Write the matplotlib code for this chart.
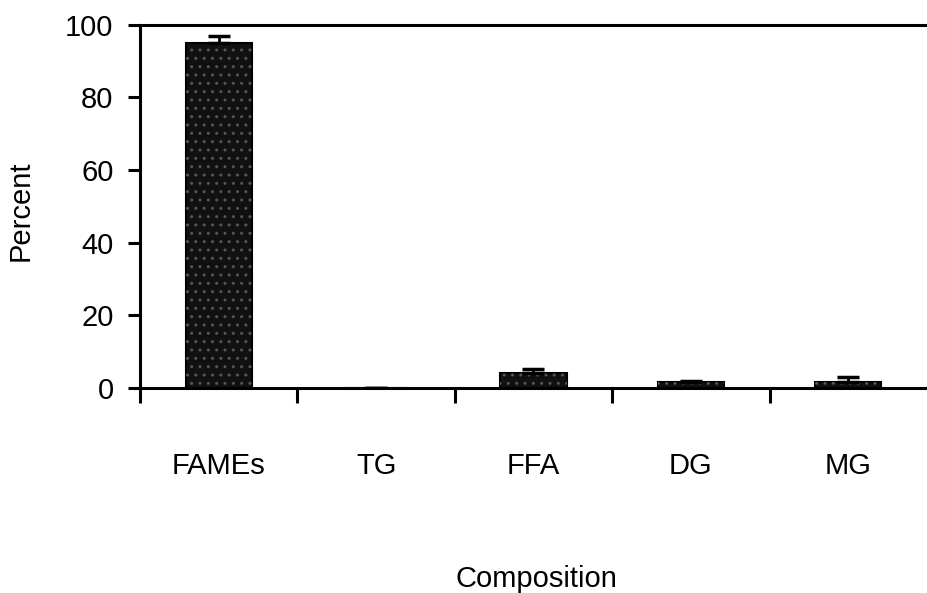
import numpy as np
import matplotlib.pyplot as plt

plt.rcParams['font.family'] = ['Liberation Sans', 'DejaVu Sans']

categorias = ['FAMEs', 'TG', 'FFA', 'DG', 'MG']
percent = [95.0, 0.0, 4.0, 1.5, 1.5]
erro = [2.0, 0.0, 1.2, 0.3, 1.5]

ind = np.arange(len(categorias))
largura = .42
fonte = 21

fig = plt.figure(figsize=(9.27, 5.93), dpi=100)
ax = fig.add_axes([0.151, 0.346, 0.849, 0.612])

barras = ax.bar(ind, percent, largura, color='#111111', edgecolor='black',
                linewidth=1.5, zorder=2)
# pontinhos claros no preenchimento
ax.bar(ind, percent, largura, color='none', edgecolor='#555555',
       hatch='..', linewidth=0, zorder=3)
ax.errorbar(ind, percent, yerr=[np.zeros(len(erro)), erro], fmt='none',
            ecolor='black', elinewidth=2, capsize=8, capthick=2.5, zorder=4)

ax.set_xlim(-0.5, 4.5)
ax.set_ylim(0, 100)
ax.set_yticks([0, 20, 40, 60, 80, 100])

# marcas nos limites entre categorias, rotulos no centro
ax.set_xticks(np.arange(-0.5, 4, 1.0))
ax.set_xticklabels([])
ax.set_xticks(ind, minor=True)
ax.set_xticklabels(categorias, minor=True)
ax.tick_params(axis='x', which='major', direction='out', length=11, width=2.2)
ax.tick_params(axis='x', which='minor', length=0, pad=46, labelsize=fonte)
ax.tick_params(axis='y', direction='out', length=9, width=2.2, pad=10,
               labelsize=fonte)

for lado in ['left', 'bottom', 'top']:
    ax.spines[lado].set_linewidth(2.2)
ax.spines['right'].set_visible(False)

ax.set_ylabel('Percent', fontsize=fonte)
ax.yaxis.set_label_coords(-0.134, 0.488)
ax.set_xlabel('Composition', fontsize=fonte)
ax.xaxis.set_label_coords(0.504, -0.488)

fig.savefig('out.png', dpi=100)
